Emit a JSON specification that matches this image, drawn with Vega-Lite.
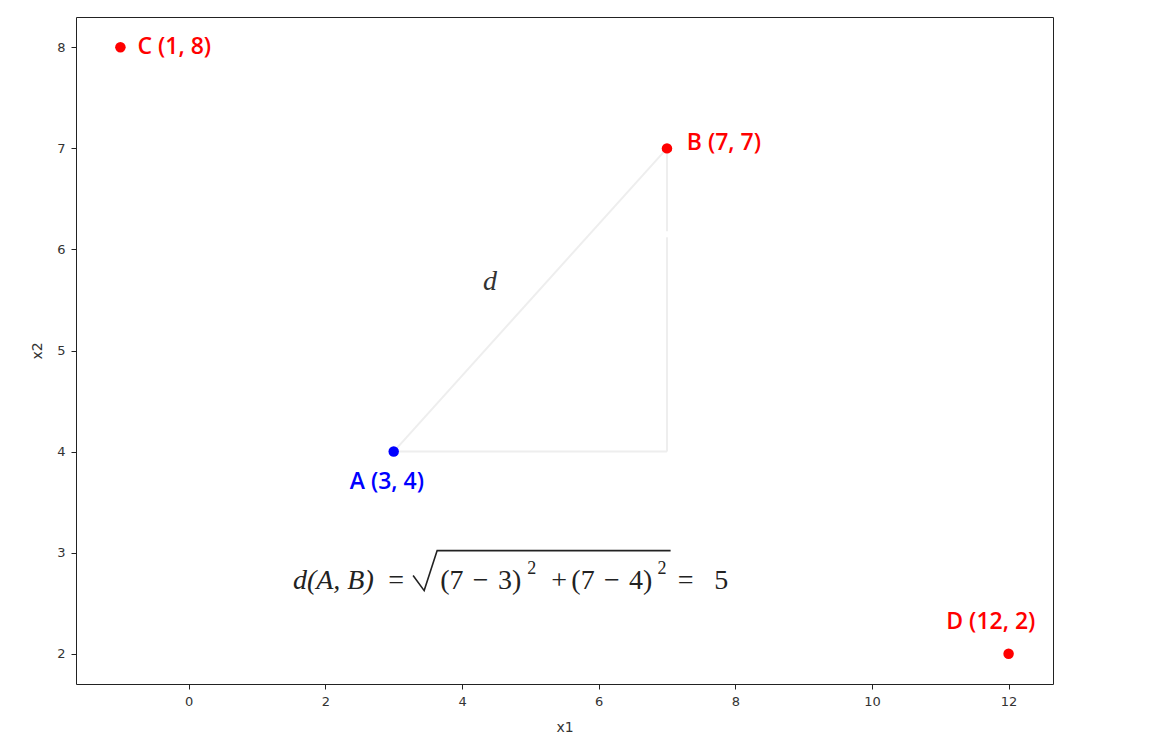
{
  "$schema": "https://vega.github.io/schema/vega-lite/v6.json",
  "width": 977,
  "height": 667,
  "autosize": {"type": "none"},
  "padding": {"left": 76, "top": 17, "right": 98, "bottom": 68},
  "background": "white",
  "config": {
    "view": {"stroke": "#222222", "strokeWidth": 1},
    "axis": {
      "labelFont": "DejaVu Sans", "labelFontSize": 13, "labelColor": "#333333",
      "titleFont": "DejaVu Sans", "titleFontSize": 14, "titleFontWeight": "normal", "titleColor": "#333333",
      "tickColor": "#222222", "tickSize": 5, "domain": false, "grid": false, "labelPadding": 6, "format": "d"
    }
  },
  "datasets": {
    "points": [
      {"name": "A", "x1": 3, "x2": 4, "label": "A (3, 4)", "color": "blue"},
      {"name": "B", "x1": 7, "x2": 7, "label": "B (7, 7)", "color": "red"},
      {"name": "C", "x1": -1, "x2": 8, "label": "C (1, 8)", "color": "red"},
      {"name": "D", "x1": 12, "x2": 2, "label": "D (12, 2)", "color": "red"}
    ],
    "segments": [
      {"xa": 3, "ya": 4, "xb": 7, "yb": 7},
      {"xa": 3, "ya": 4, "xb": 7, "yb": 4},
      {"xa": 7, "ya": 4, "xb": 7, "yb": 6.12},
      {"xa": 7, "ya": 6.18, "xb": 7, "yb": 7}
    ],
    "leftLabels": [
      {"x": -0.75, "y": 8.0, "text": "C (1, 8)"},
      {"x": 7.29, "y": 7.05, "text": "B (7, 7)"}
    ],
    "centerLabels": [
      {"x": 2.9, "y": 3.7, "text": "A (3, 4)", "c": "A"},
      {"x": 11.74, "y": 2.31, "text": "D (12, 2)", "c": "D"}
    ],
    "radical": [
      {"o": 1, "x": 3.284, "y": 2.773},
      {"o": 2, "x": 3.446, "y": 2.624},
      {"o": 3, "x": 3.636, "y": 3.02},
      {"o": 4, "x": 7.053, "y": 3.02}
    ],
    "formulaLeft": [
      {"x": 3.68, "y": 2.644, "text": "(7\u2004\u2212\u20043)"},
      {"x": 5.6, "y": 2.644, "text": "(7\u2004\u2212\u20044)"}
    ],
    "formulaCenter": [
      {"x": 3.035, "y": 2.644, "text": "="},
      {"x": 5.42, "y": 2.644, "text": "+"},
      {"x": 7.273, "y": 2.644, "text": "="},
      {"x": 7.793, "y": 2.644, "text": "5"}
    ],
    "sups": [
      {"x": 4.956, "y": 2.79, "text": "2"},
      {"x": 6.86, "y": 2.79, "text": "2"}
    ],
    "italics": [
      {"x": 1.525, "y": 2.644, "text": "d(A, B)"}
    ],
    "dlabel": [
      {"x": 4.41, "y": 5.68, "text": "d"}
    ]
  },
  "layer": [
    {
      "data": {"name": "segments"},
      "mark": {"type": "rule", "color": "#eeeeee", "strokeWidth": 2},
      "encoding": {
        "x": {"field": "xa", "type": "quantitative", "scale": {"domain": [-1.65, 12.65], "nice": false, "zero": false}, "axis": {"values": [0, 2, 4, 6, 8, 10, 12], "title": "x1", "titlePadding": 12}},
        "y": {"field": "ya", "type": "quantitative", "scale": {"domain": [1.7, 8.3], "nice": false, "zero": false}, "axis": {"values": [2, 3, 4, 5, 6, 7, 8], "title": "x2", "titlePadding": 12}},
        "x2": {"field": "xb"},
        "y2": {"field": "yb"}
      }
    },
    {
      "data": {"name": "points"},
      "mark": {"type": "circle", "size": 110, "opacity": 1},
      "encoding": {
        "x": {"field": "x1", "type": "quantitative"},
        "y": {"field": "x2", "type": "quantitative"},
        "color": {"field": "color", "type": "nominal", "scale": {"domain": ["blue", "red"], "range": ["#0000ff", "#ff0000"]}, "legend": null}
      }
    },
    {
      "data": {"name": "leftLabels"},
      "mark": {"type": "text", "align": "left", "baseline": "middle", "font": "Open Sans", "fontWeight": 600, "fontSize": 23, "color": "#ff0000"},
      "encoding": {
        "x": {"field": "x", "type": "quantitative"},
        "y": {"field": "y", "type": "quantitative"},
        "text": {"field": "text"}
      }
    },
    {
      "data": {"name": "centerLabels"},
      "mark": {"type": "text", "align": "center", "baseline": "middle", "font": "Open Sans", "fontWeight": 600, "fontSize": 23},
      "encoding": {
        "x": {"field": "x", "type": "quantitative"},
        "y": {"field": "y", "type": "quantitative"},
        "text": {"field": "text"},
        "color": {"field": "c", "type": "nominal", "scale": {"domain": ["A", "D"], "range": ["#0000ff", "#ff0000"]}, "legend": null}
      }
    },
    {
      "data": {"name": "radical"},
      "mark": {"type": "line", "color": "#222222", "strokeWidth": 1.6},
      "encoding": {
        "x": {"field": "x", "type": "quantitative"},
        "y": {"field": "y", "type": "quantitative"},
        "order": {"field": "o"}
      }
    },
    {
      "data": {"name": "formulaLeft"},
      "mark": {"type": "text", "align": "left", "baseline": "alphabetic", "font": "Liberation Serif", "fontSize": 28, "color": "#222222"},
      "encoding": {
        "x": {"field": "x", "type": "quantitative"},
        "y": {"field": "y", "type": "quantitative"},
        "text": {"field": "text"}
      }
    },
    {
      "data": {"name": "formulaCenter"},
      "mark": {"type": "text", "align": "center", "baseline": "alphabetic", "font": "Liberation Serif", "fontSize": 28, "color": "#222222"},
      "encoding": {
        "x": {"field": "x", "type": "quantitative"},
        "y": {"field": "y", "type": "quantitative"},
        "text": {"field": "text"}
      }
    },
    {
      "data": {"name": "sups"},
      "mark": {"type": "text", "align": "left", "baseline": "alphabetic", "font": "Liberation Serif", "fontSize": 18, "color": "#222222"},
      "encoding": {
        "x": {"field": "x", "type": "quantitative"},
        "y": {"field": "y", "type": "quantitative"},
        "text": {"field": "text"}
      }
    },
    {
      "data": {"name": "italics"},
      "mark": {"type": "text", "align": "left", "baseline": "alphabetic", "font": "Liberation Serif", "fontStyle": "italic", "fontSize": 28, "color": "#222222"},
      "encoding": {
        "x": {"field": "x", "type": "quantitative"},
        "y": {"field": "y", "type": "quantitative"},
        "text": {"field": "text"}
      }
    },
    {
      "data": {"name": "dlabel"},
      "mark": {"type": "text", "align": "center", "baseline": "middle", "font": "Liberation Serif", "fontStyle": "italic", "fontSize": 28, "color": "#333333"},
      "encoding": {
        "x": {"field": "x", "type": "quantitative"},
        "y": {"field": "y", "type": "quantitative"},
        "text": {"field": "text"}
      }
    }
  ]
}
